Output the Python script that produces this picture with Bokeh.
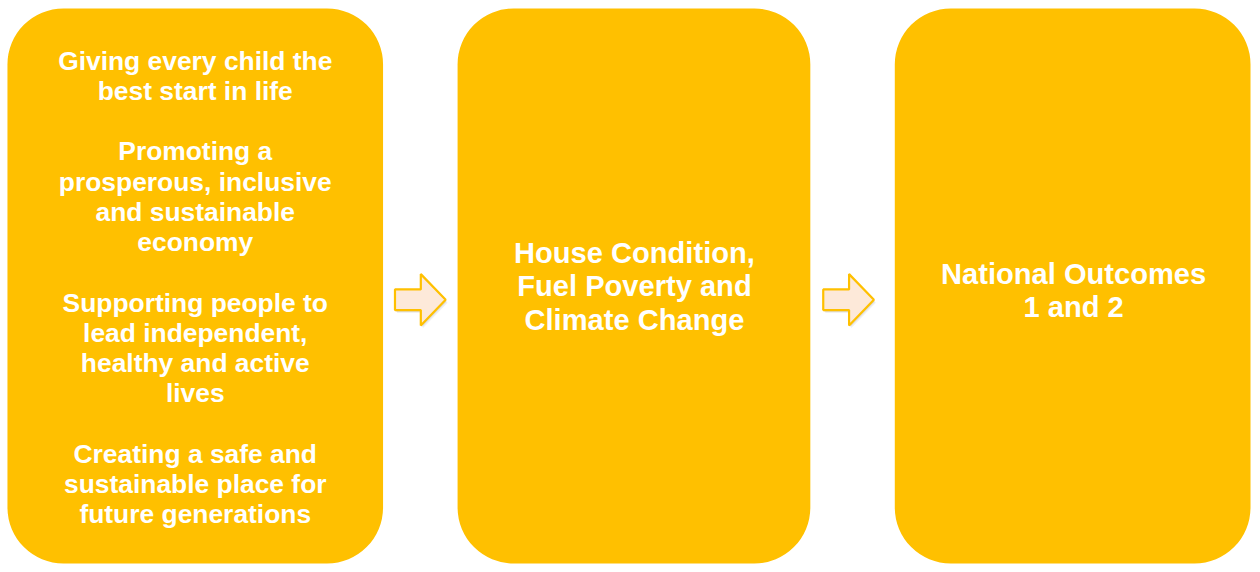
from bokeh.plotting import figure
from bokeh.models import Range1d
from bokeh.embed import file_html
from bokeh.resources import INLINE
from bokeh.core.properties import value

# ---- content ----
box1_lines = ["Giving every child the", "best start in life", "",
              "Promoting a", "prosperous, inclusive", "and sustainable", "economy", "",
              "Supporting people to", "lead independent,", "healthy and active", "lives", "",
              "Creating a safe and", "sustainable place for", "future generations"]
box2_lines = ["House Condition,", "Fuel Poverty and", "Climate Change"]
box3_lines = ["National Outcomes", "1 and 2"]

# ---- layout (reference pixel coordinates, fitted into the window) ----
W, H = 1252, 564
p = figure(width=W, height=H, output_backend="svg", toolbar_location=None,
           x_range=Range1d(0, 1260), y_range=Range1d(572, 0),
           min_border=0)
p.axis.visible = False
p.grid.visible = False
p.outline_line_color = None
p.background_fill_color = "white"
p.border_fill_color = "white"

GOLD = "#FFC000"
boxes = [(7, 385), (460, 815), (900, 1258)]
top, bottom = 8, 571
p.quad(left=[b[0] for b in boxes], right=[b[1] for b in boxes],
       top=[top] * 3, bottom=[bottom] * 3,
       fill_color=GOLD, line_color=None, border_radius=56)

FONT = value("Liberation Sans")

def draw_lines(lines, cx, cy, size, spacing):
    n = len(lines)
    ys = [cy + (i - (n - 1) / 2) * spacing for i in range(n)]
    keep = [(l, y) for l, y in zip(lines, ys) if l]
    p.text(x=[cx] * len(keep), y=[y for _, y in keep], text=[l for l, _ in keep],
           text_font=FONT, text_font_style="bold", text_font_size=f"{size}px",
           text_color="white", text_align="center", text_baseline="middle")

draw_lines(box1_lines, 196, 291, 26.4, 30.65)
draw_lines(box2_lines, 638, 290, 29.1, 34)
draw_lines(box3_lines, 1080, 294, 29.1, 34)

# arrows
def arrow(L, cy):
    stem_h, head_h, head_x, tip_x = 21, 52, 26, 51
    xs = [L, L + head_x, L + head_x, L + tip_x, L + head_x, L + head_x, L]
    ys = [cy - stem_h / 2, cy - stem_h / 2, cy - head_h / 2, cy,
          cy + head_h / 2, cy + stem_h / 2, cy + stem_h / 2]
    return xs, ys

for L in (397, 828):
    xs, ys = arrow(L, 303.5)
    for off, a in ((3, 0.06), (2, 0.08)):
        p.patch([x + off - 1 for x in xs], [y + off for y in ys], fill_color="black",
                fill_alpha=a, line_color=None)
    p.patch(xs, ys, fill_color="#FDE9D9", line_color=GOLD, line_width=2.2)

open("out.html", "w").write(file_html(p, INLINE))
